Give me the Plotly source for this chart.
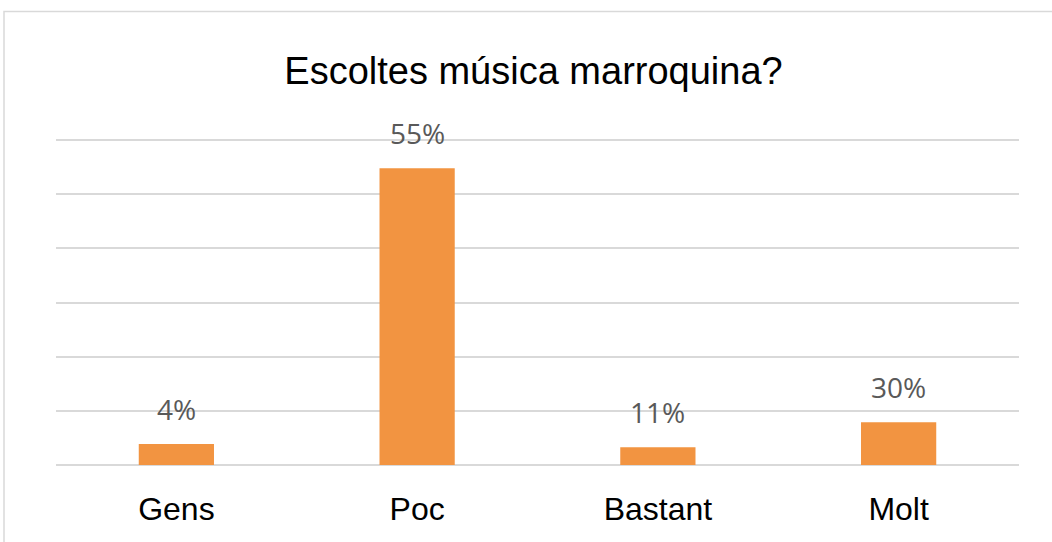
import plotly.graph_objects as go

categories = ["Gens", "Poc", "Bastant", "Molt"]
values = [3.9, 54.8, 3.3, 7.9]
labels = ["4%", "55%", "11%", "30%"]
title_text = "Escoltes música marroquina?"

bar_color = "#F29441"
grid_color = "#D9D9D9"

L, R, T, B = 56, 33, 135, 77
plot_w = 1052 - L - R
plot_h = 542 - T - B
unit_px = 325 / 60.0
y_top = plot_h / unit_px

fig = go.Figure()
fig.add_trace(go.Bar(x=categories, y=values, marker=dict(color=bar_color, line=dict(width=0)),
                     hoverinfo="skip"))

for c, v, t in zip(categories, values, labels):
    fig.add_annotation(x=c, y=v, xref="x", yref="y", text=t, showarrow=False,
                       yanchor="bottom", yshift=14,
                       font=dict(family="Open Sans, Arial, sans-serif", size=28, color="#595959"))

fig.update_layout(
    width=1052, height=542,
    margin=dict(l=L, r=R, t=T, b=B),
    paper_bgcolor="white", plot_bgcolor="white",
    bargap=0.6875,
    showlegend=False,
    title=dict(text=title_text, x=(533.5 - L) / plot_w, xref="paper", xanchor="center",
               y=1 - 71 / 542, yref="container", yanchor="middle",
               font=dict(family="Liberation Sans, Arial, sans-serif", size=38, color="#000000")),
    xaxis=dict(showgrid=False, showline=False, zeroline=False, ticks="",
               tickfont=dict(family="Liberation Sans, Arial, sans-serif", size=32, color="#000000"),
               ticklabelstandoff=22),
    yaxis=dict(range=[0, y_top], tickvals=[0, 10, 20, 30, 40, 50, 60], showgrid=True,
               gridcolor=grid_color, gridwidth=1.5,
               zeroline=True, zerolinecolor=grid_color, zerolinewidth=1.5,
               showticklabels=False, ticks="", showline=False),
    shapes=[dict(type="rect", xref="paper", yref="paper",
                 x0=(4 - L) / plot_w, x1=(1060 - L) / plot_w,
                 y0=(542 - B - 560) / plot_h, y1=(542 - B - 11.5) / plot_h,
                 line=dict(color="#D9D9D9", width=1.5), fillcolor="rgba(0,0,0,0)", layer="below")],
)

fig.write_html("out.html", config={"displayModeBar": False},
               post_script="document.body.style.margin='0';document.body.style.padding='0';")
